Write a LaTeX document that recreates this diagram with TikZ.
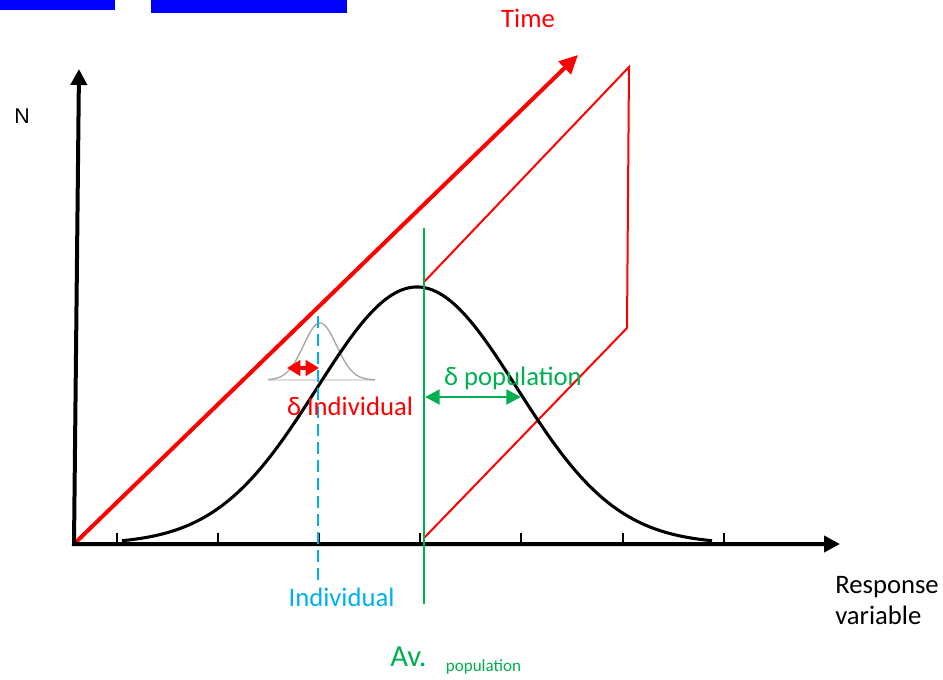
\documentclass[tikz,border=0pt]{standalone}
\usepackage{fontspec}
\setmainfont{Carlito}
\newfontfamily\arialfont{Liberation Sans}
\usetikzlibrary{arrows.meta}
\definecolor{cgreen}{RGB}{0,176,80}
\definecolor{cblue}{RGB}{0,176,240}
\definecolor{cgray}{RGB}{165,165,165}
\definecolor{cbase}{RGB}{222,222,222}
\begin{document}
\begin{tikzpicture}[x=0.75pt,y=-0.75pt,
  lbl/.style={inner sep=0pt, anchor=base, font=\fontsize{20}{24}\selectfont},
  axisline/.style={line width=3pt, line join=miter, {Triangle[length=12pt,width=12pt]}-{Triangle[length=12pt,width=12pt]}},
  tickmark/.style={line width=1.1pt},
  thinred/.style={red, line width=1.5pt},
  bigarrow/.style={red, line width=3pt, -{Triangle[length=14pt,width=13pt]}},
  dblgreen/.style={cgreen, line width=2.2pt, {Triangle[length=11pt,width=11pt]}-{Triangle[length=11pt,width=11pt]}},
  dblred/.style={red, line width=2.5pt, {Triangle[length=10pt,width=11.5pt]}-{Triangle[length=10pt,width=11.5pt]}}]
\useasboundingbox (0,0) rectangle (943,679);
% blue bars at top
\fill[blue] (0,0) rectangle (115,10);
\fill[blue] (151,0) rectangle (347,13);
% coordinates
\coordinate (O) at (74,544);
\coordinate (Ytip) at (79,69);
\coordinate (Xtip) at (840,544);
\coordinate (Ttip) at (578,55);
\coordinate (P1) at (424,282);
\coordinate (P2) at (629,67);
\coordinate (P3) at (627,328);
\coordinate (P4) at (424,538);
\coordinate (G1) at (424,228);
\coordinate (G2) at (424,604);
\coordinate (B1) at (318,316);
\coordinate (B2) at (318,580);
\coordinate (R1) at (287,368);
\coordinate (R2) at (319,368);
\coordinate (A1) at (425,397);
\coordinate (A2) at (521,397);
% small grey gaussian
\draw[cbase, line width=1.2pt] (268,380) -- (375,380);
\draw[cgray, line width=1pt] plot[domain=268:375, samples=80, smooth] (\x,{380-57*exp(-0.5*((\x-320)/16.5)^2)});
% red time arrow and parallelogram
\draw[bigarrow] (O) -- (Ttip);
\draw[thinred] (P1) -- (P2) -- (P3) -- (P4);
% population curve
\draw[line width=2.3pt] plot[domain=122:712, samples=200, smooth] (\x,{544-257*exp(-0.5*((\x-417)/100)^2)});
% axes
\draw[axisline] (Ytip) -- (O) -- (Xtip);
\foreach \t in {117,218,319,420,521,623,724} \draw[tickmark] (\t,544) -- (\t,533);
% individual and population lines
\draw[cblue, line width=1.9pt, dash pattern=on 9pt off 4.5pt] (B1) -- (B2);
\draw[cgreen, line width=1.9pt] (G1) -- (G2);
\draw[dblred] (R1) -- (R2);
\draw[dblgreen] (A1) -- (A2);
% labels
\node[lbl, text=red] (time) at (528,27) {Time};
\node[lbl, font=\arialfont\fontsize{16}{19}\selectfont] (N) at (22,123) {N};
\node[lbl, anchor=base west] (resp1) at (835,593) {Response};
\node[lbl, anchor=base west] (resp2) at (835,624) {variable};
\node[lbl, text=cblue] (ind) at (341.5,606) {Individual};
\node[lbl, text=red] (dind) at (350,415) {δ Individual};
\node[lbl, text=cgreen] (dpop) at (513,385) {δ population};
\node[lbl, text=cgreen, anchor=base west, font=\fontsize{23}{27}\selectfont] (av) at (390,666) {Av.\hspace{14.5pt}\raisebox{-4pt}{\fontsize{12.8}{15}\selectfont population}};
\end{tikzpicture}
\end{document}
